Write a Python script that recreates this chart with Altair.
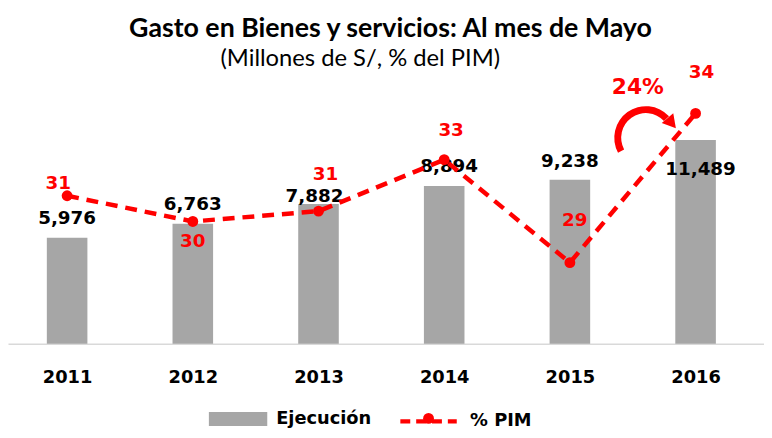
import altair as alt
import pandas as pd

# ---- data ----
YEARS = [2011, 2012, 2013, 2014, 2015, 2016]
EJECUCION = [5976, 6763, 7882, 8894, 9238, 11489]      # Millones de S/
PIM_PCT = [31.2, 30.2, 30.6, 32.6, 28.6, 34.4]          # % del PIM

TITLE = "Gasto en Bienes y servicios: Al mes de Mayo"
SUBTITLE = "(Millones de S/, % del PIM)"
SERIES_BAR = "Ejecución"
SERIES_LINE = "% PIM"

# ---- styling / placement (not data) ----
GRAY = "#a6a6a6"
RED = "#ff0000"
BAR_LABEL_OFF = [(0, -20), (0, -20), (-4, -8), (5, -20), (0, -19), (5, 29)]
PIM_LABEL_OFF = [(-9, -13), (0, 20), (7, -37), (7, -30), (5, -43), (6, -42)]

W, H = 764, 285
X_DOMAIN = [2010.569, 2016.505]
BAR_DOMAIN = [0, 15900]
PIM_DOMAIN = [25.45, 36.41]
FONT = "DejaVu Sans"
TFONT = "Lato"

growth = round((EJECUCION[-1] / EJECUCION[-2] - 1) * 100)

df = pd.DataFrame({
    "year": YEARS,
    "ejec": EJECUCION,
    "pim": PIM_PCT,
    "serie_b": SERIES_BAR,
    "serie_l": SERIES_LINE,
})
df["ejec_txt"] = df["ejec"].map(lambda v: f"{v:,}")
df["pim_txt"] = df["pim"].map(lambda v: f"{v:.0f}")

x_enc = alt.X(
    "year:Q",
    scale=alt.Scale(domain=X_DOMAIN, nice=False, zero=False),
    axis=alt.Axis(
        values=YEARS, format="d", title=None, grid=False, ticks=False, tickSize=0,
        labelFont=FONT, labelFontSize=18, labelFontWeight="bold", labelColor="#000000",
        labelPadding=25, domainColor="#d9d9d9", domainWidth=1.5, labelFlush=False,
    ),
)
y_bar = alt.Y("ejec:Q", scale=alt.Scale(domain=BAR_DOMAIN, nice=False), axis=None)
y_pim = alt.Y("pim:Q", scale=alt.Scale(domain=PIM_DOMAIN, nice=False, zero=False), axis=None)

base = alt.Chart(df)

legend_text = dict(labelFont=FONT, labelFontSize=18, labelFontWeight="bold",
                   labelColor="#000000", title=None, orient="none", padding=0)

bars = base.mark_bar(size=41).encode(
    x=x_enc,
    y=y_bar,
    fill=alt.Fill(
        "serie_b:N",
        scale=alt.Scale(domain=[SERIES_BAR], range=[GRAY]),
        legend=alt.Legend(
            legendX=203, legendY=331.5,
            symbolType="M-1,-0.24H1V0.24H-1Z", symbolSize=3481, symbolStrokeWidth=0,
            symbolOpacity=1, labelOffset=9, **legend_text,
        ),
    ),
)

line = base.mark_line(strokeWidth=4.5, strokeDash=[12, 8]).encode(
    x=x_enc,
    y=y_pim,
    stroke=alt.Stroke(
        "serie_l:N",
        scale=alt.Scale(domain=[SERIES_LINE], range=[RED]),
        legend=alt.Legend(
            legendX=394, legendY=332.5,
            symbolType="stroke", symbolSize=3249, symbolStrokeWidth=4.5,
            symbolDash=[10, 6], labelOffset=11, **legend_text,
        ),
    ),
)

# marker dot drawn in the middle of the line's legend key (no label of its own)
points = base.mark_circle(size=120, opacity=1).encode(
    x=x_enc, y=y_pim,
    color=alt.Color(
        "serie_l:N",
        scale=alt.Scale(domain=[SERIES_LINE], range=[RED]),
        legend=alt.Legend(
            legendX=416, legendY=351.5, symbolType="circle", symbolSize=120,
            symbolStrokeWidth=0, symbolOpacity=1, labelExpr="''", labelOffset=0,
            **legend_text,
        ),
    ),
)

# value labels, one small layer per point so each keeps its own offset
bar_labels = []
pim_labels = []
for i in range(len(YEARS)):
    row = alt.Chart(df.iloc[[i]])
    bdx, bdy = BAR_LABEL_OFF[i]
    pdx, pdy = PIM_LABEL_OFF[i]
    bar_labels.append(
        row.mark_text(font=FONT, fontSize=18.5, fontWeight="bold", color="#000000",
                      baseline="middle", dx=bdx, dy=bdy)
        .encode(x=x_enc, y=y_bar, text="ejec_txt:N")
    )
    pim_labels.append(
        row.mark_text(font=FONT, fontSize=18.5, fontWeight="bold", color=RED,
                      baseline="middle", dx=pdx, dy=pdy)
        .encode(x=x_enc, y=y_pim, text="pim_txt:N")
    )

# growth annotation (curved arrow + label), placed in data space
arc_df = pd.DataFrame({"year": [2015.605], "pim": [33.45]})
head_df = pd.DataFrame({"year": [2015.81], "pim": [34.02]})
txt_df = pd.DataFrame({"year": [2015.541], "pim": [35.41], "txt": [f"{growth}%"]})

arc = alt.Chart(arc_df).mark_arc(
    radius=32, radius2=25, theta=4.22, theta2=7.1, color=RED, opacity=1
).encode(x=x_enc, y=y_pim)
head = alt.Chart(head_df).mark_point(
    shape="triangle-up", angle=140, size=230, filled=True, color=RED, opacity=1
).encode(x=x_enc, y=y_pim)
growth_txt = alt.Chart(txt_df).mark_text(
    font=FONT, fontSize=22, fontWeight="bold", color=RED, baseline="middle"
).encode(x=x_enc, y=y_pim, text="txt:N")

tdf = pd.DataFrame({"t": [TITLE], "s": [SUBTITLE]})
title = alt.Chart(tdf).mark_text(
    font=TFONT, fontSize=27, fontWeight="bold", color="#000000", baseline="alphabetic"
).encode(text="t:N", x=alt.value(386.5), y=alt.value(-24.5))
subtitle = alt.Chart(tdf).mark_text(
    font=TFONT, fontSize=24, color="#000000", baseline="alphabetic"
).encode(text="s:N", x=alt.value(356), y=alt.value(4.5))

chart = alt.layer(
    bars, *bar_labels, line, points, *pim_labels, arc, head, growth_txt, title, subtitle
).resolve_scale(
    y="independent", fill="independent", stroke="independent", color="independent"
).properties(
    width=W, height=H,
    autosize=alt.AutoSizeParams(type="none"),
    padding={"left": 0, "right": 0, "top": 52, "bottom": 85},
    background="#ffffff",
).configure_view(stroke=None)

chart.save("out.html", embed_options={"renderer": "svg", "actions": False})
